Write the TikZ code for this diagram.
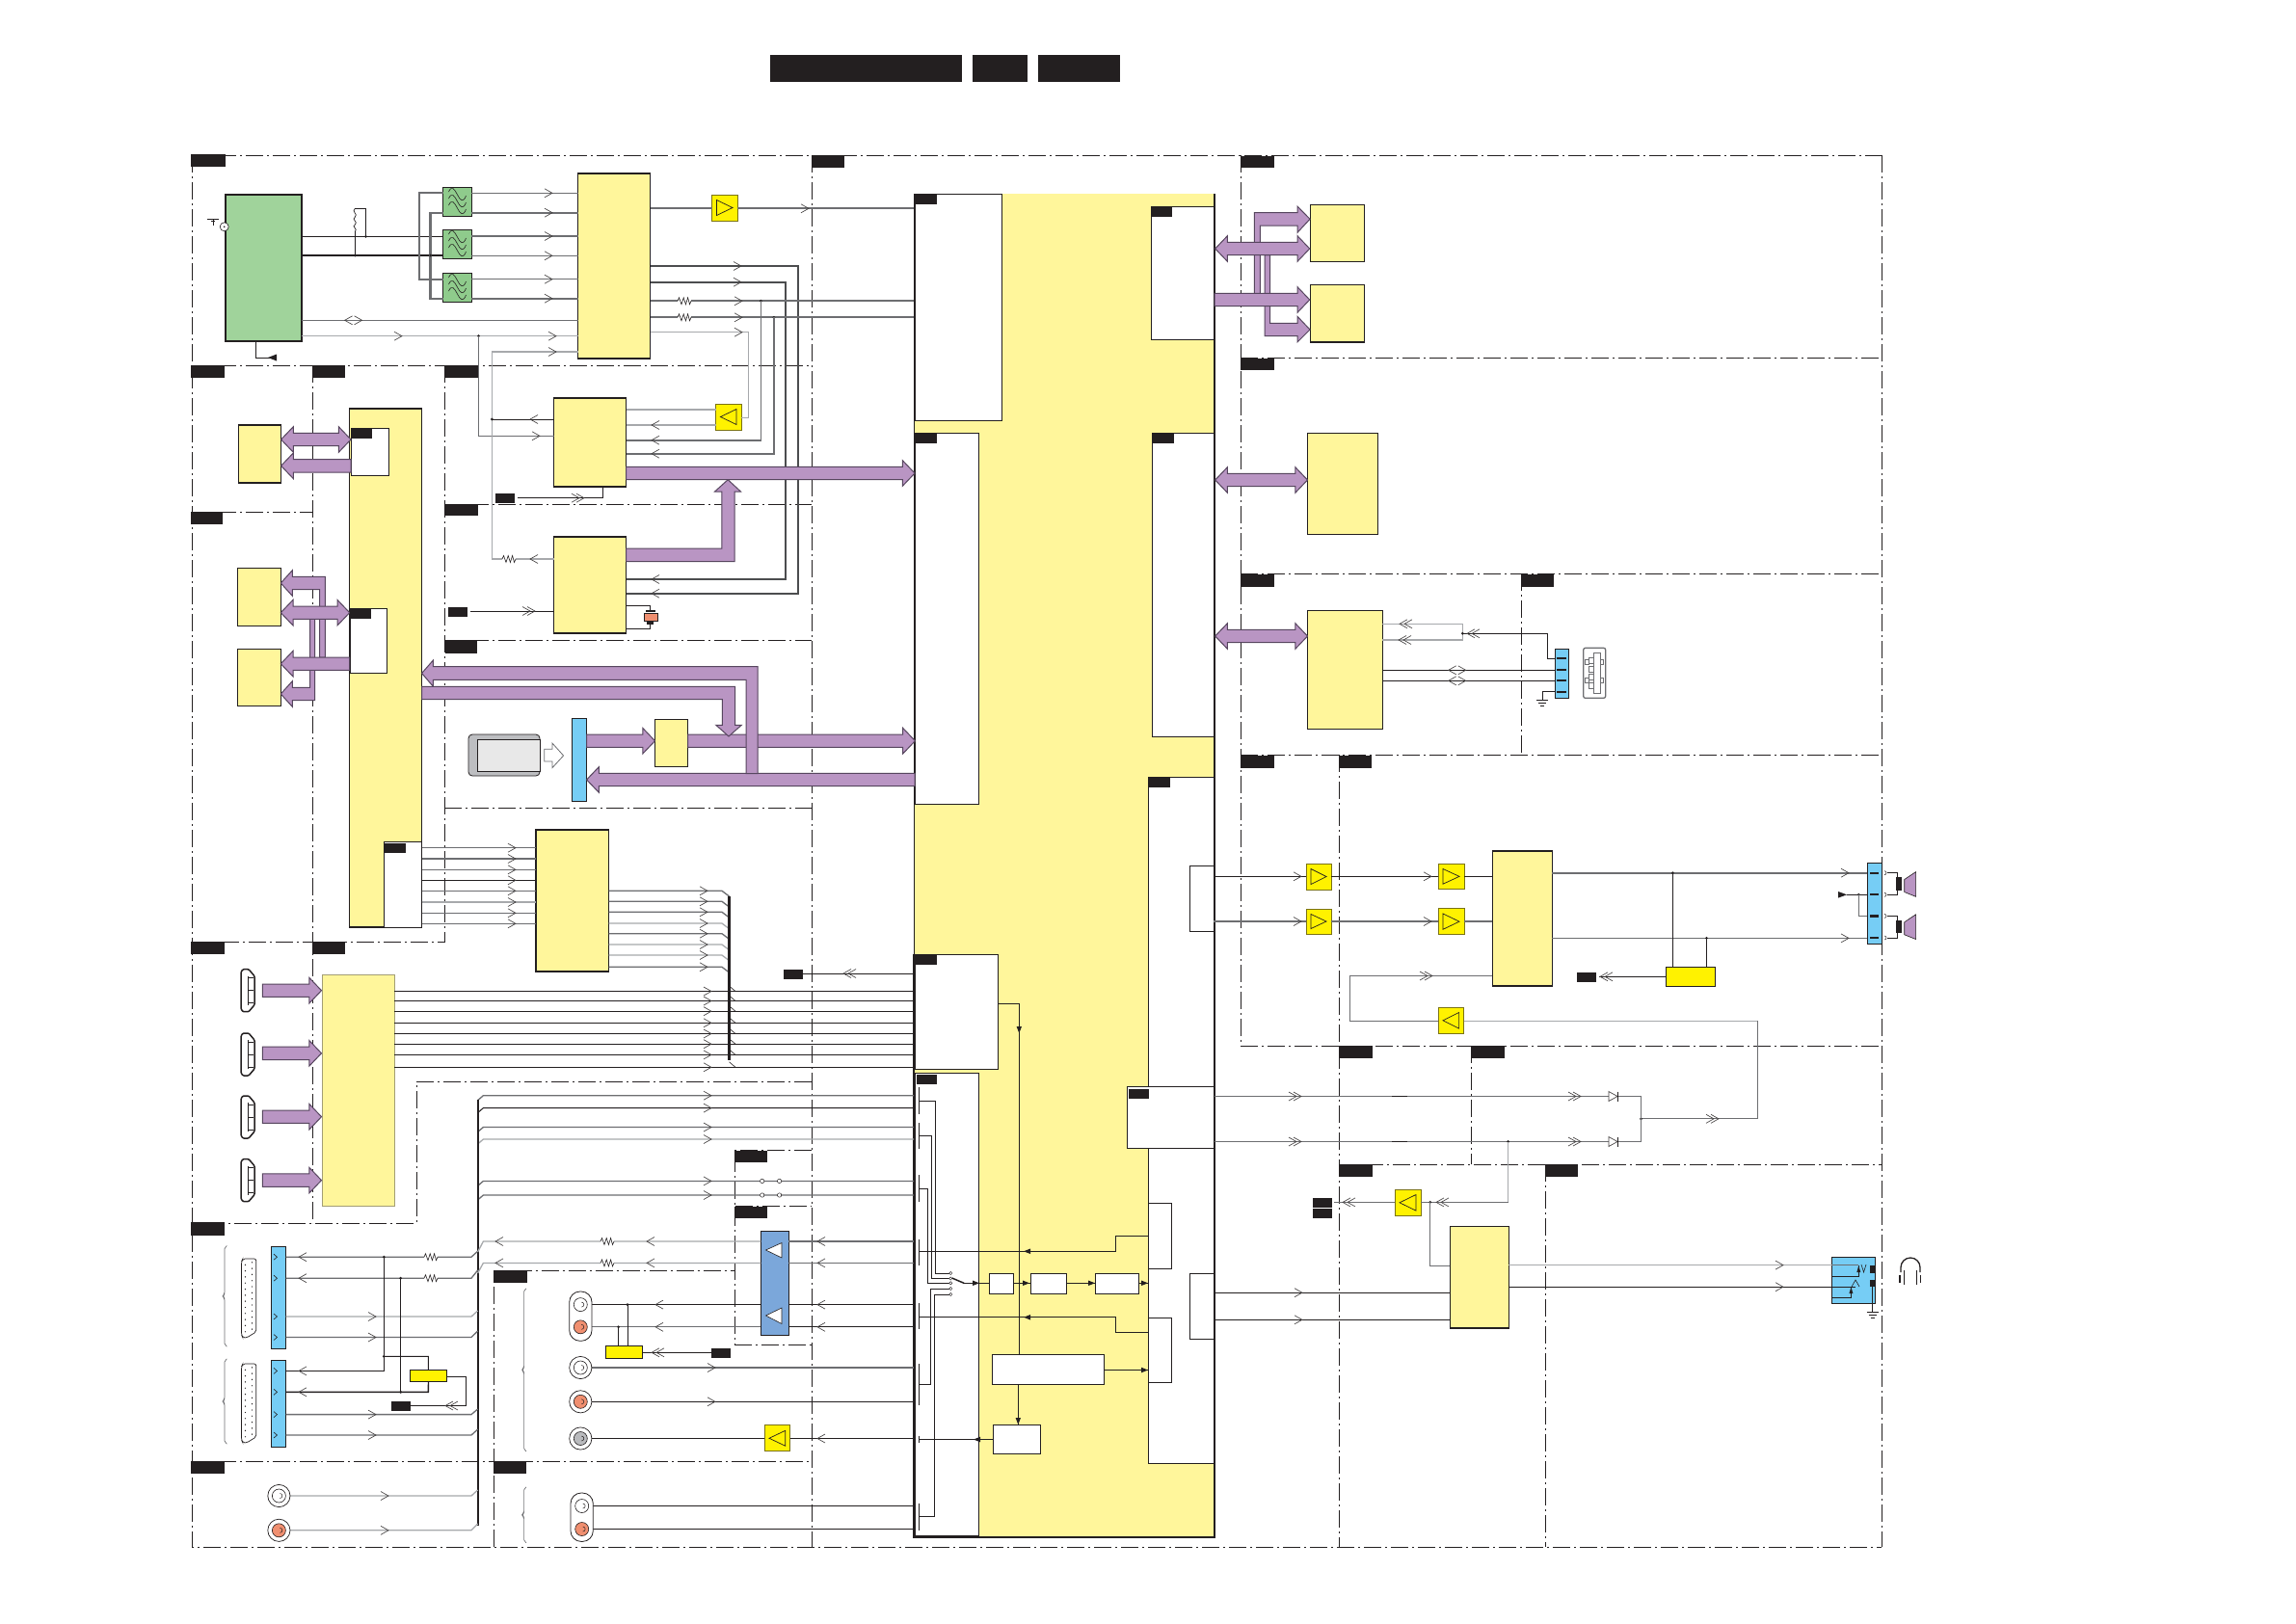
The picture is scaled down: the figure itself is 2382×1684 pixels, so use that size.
\documentclass[tikz,border=0pt]{standalone}
\definecolor{ink}{HTML}{231F20}
\definecolor{yl}{HTML}{FFF69B}
\definecolor{ybr}{HTML}{FFF200}
\definecolor{grn}{HTML}{A0D39B}
\definecolor{grn2}{HTML}{8FCB8C}
\definecolor{busc}{HTML}{B995C3}
\definecolor{busd}{HTML}{57465F}
\definecolor{cyn}{HTML}{76CDF5}
\definecolor{blu}{HTML}{7BA7DA}
\definecolor{sal}{HTML}{F08F70}
\definecolor{gm}{HTML}{6D6E71}
\definecolor{gl}{HTML}{A7A9AC}
\tikzset{
  base/.style={rectangle,inner sep=0pt,outer sep=0pt,anchor=center},
  yb/.style={base,fill=yl,draw=ink,line width=1.3pt},
  ybt/.style={base,fill=yl,draw=ink!35!yl!70!gray,line width=1pt},
  wb/.style={base,fill=white,draw=ink,line width=.9pt},
  gb/.style={base,fill=grn,draw=ink,line width=1.8pt},
  fb/.style={base,fill=grn2,draw=ink,line width=1pt},
  ampsq/.style={base,fill=ybr,draw=ink!60!ybr,line width=1pt},
  ysq/.style={base,fill=ybr,draw=ink,line width=1pt},
  cb/.style={base,fill=cyn,draw=ink,line width=.8pt},
  bb/.style={base,fill=blu,draw=ink,line width=1pt},
  fr/.style={draw=ink,line width=.8pt,dash pattern=on 18pt off 4pt on 2pt off 4pt},
  wk/.style={draw=ink,line width=1pt},
  wk2/.style={draw=ink,line width=1.4pt},
  wg/.style={draw=gm,line width=1.3pt},
  wt/.style={draw=gm,line width=2.2pt},
  wl/.style={draw=gl,line width=1.3pt},
  chev/.style={draw=ink!85,line width=.65pt},
  bus/.style={fill=busc,draw=busd,line width=1pt,line join=miter},
}
\newcommand\bx[6]{\node[#1,minimum width={(#5-#3)*1pt},minimum height={(#6-#4)*1pt}] (#2) at ({(#3+#5)/2},{(#4+#6)/2}) {};}
\newcommand\ampR[5]{\bx{ampsq}{#1}{#2}{#3}{#4}{#5}\draw[ink,line width=.7pt] (#2+5,#3+5.5)--(#4-5,{(#3+#5)/2})--(#2+5,#5-5.5)--cycle;}
\newcommand\ampL[5]{\bx{ampsq}{#1}{#2}{#3}{#4}{#5}\draw[ink,line width=.7pt] (#4-5,#3+5.5)--(#2+5,{(#3+#5)/2})--(#4-5,#5-5.5)--cycle;}
\newcommand\lb[4]{\fill[ink] (#1,#3) rectangle (#2,#4);}
\newcommand\hl[4]{\draw[#1] (#2.east |- 0,#4) -- (#3.west |- 0,#4);}
\newcommand\chR[2]{\draw[chev] (#1-8,#2-4.5)--(#1,#2)--(#1-8,#2+4.5);}
\newcommand\chL[2]{\draw[chev] (#1+8,#2-4.5)--(#1,#2)--(#1+8,#2+4.5);}
\newcommand\dchR[2]{\chR{#1}{#2}\chR{#1+5}{#2}}
\newcommand\dchL[2]{\chL{#1}{#2}\chL{#1+5}{#2}}
\newcommand\dia[2]{\chL{#1-9}{#2}\chR{#1+9}{#2}}
\newcommand\jn[2]{\fill[ink] (#1,#2) circle (1.5pt);}
\newcommand\resi[2]{\fill[white] (#1-7,#2-2) rectangle (#1+7,#2+2);\draw[ink,line width=.6pt] (#1-7,#2)--(#1-5.5,#2-3.5)--(#1-3,#2+3.5)--(#1-.8,#2-3.5)--(#1+1.4,#2+3.5)--(#1+3.6,#2-3.5)--(#1+5.5,#2+3.5)--(#1+7,#2);}
\newcommand\buR[3]{\draw[bus] (#1,#3-6.7)--(#2-12.7,#3-6.7)--(#2-12.7,#3-13.3)--(#2,#3)--(#2-12.7,#3+13.3)--(#2-12.7,#3+6.7)--(#1,#3+6.7)--cycle;}
\newcommand\buL[3]{\draw[bus] (#2,#3-6.7)--(#1+12.7,#3-6.7)--(#1+12.7,#3-13.3)--(#1,#3)--(#1+12.7,#3+13.3)--(#1+12.7,#3+6.7)--(#2,#3+6.7)--cycle;}
\newcommand\buB[3]{\draw[bus] (#1,#3)--(#1+12.7,#3-13.3)--(#1+12.7,#3-6.7)--(#2-12.7,#3-6.7)--(#2-12.7,#3-13.3)--(#2,#3)--(#2-12.7,#3+13.3)--(#2-12.7,#3+6.7)--(#1+12.7,#3+6.7)--(#1+12.7,#3+13.3)--cycle;}
\newcommand\rcb[3]{\draw[ink,line width=.6pt,fill=#3] (#1,#2) circle (7pt);\draw[ink,line width=.5pt] (#1+1,#2-2.5) arc (90:-90:2.5pt);}
\newcommand\rca[3]{\draw[ink,line width=.7pt,fill=white] (#1,#2) circle (11.6pt);\rcb{#1}{#2}{#3}}
\newcommand\rcaoval[4]{\draw[ink,line width=.8pt,fill=white,rounded corners=11pt] (#1,#2) rectangle (#3,#4);}
\newcommand\gnd[2]{\draw[ink,line width=.7pt] (#1-6,#2)--(#1+6,#2) (#1-4,#2+3)--(#1+4,#2+3) (#1-2,#2+6)--(#1+2,#2+6);}
\newcommand\hdmi[1]{\draw[ink,line width=1.5pt,fill=white,rounded corners=1pt] (252,#1)--(258,#1)--(264,#1+7)--(264,#1+37)--(258,#1+44)--(252,#1+44)--(250,#1+41)--(250,#1+3)--cycle;\draw[ink,line width=.7pt] (257,#1+7)--(257,#1+37) (257,#1+9)--(262.5,#1+9) (257,#1+22)--(262.5,#1+22) (257,#1+35)--(262.5,#1+35);}
\newcommand\dsub[2]{\draw[ink,line width=.7pt,fill=white,rounded corners=2pt] (252,#1)--(265.7,#1)--(265.7,#2-6)--(259,#2-2)--(256,#2)--(252,#2)--(250.5,#2-3)--(250.5,#1+3)--cycle;\foreach \k in {1,...,12}{\fill[ink] (254.5,{#1+\k*(#2-#1)/13}) circle (.7pt);\fill[ink] (261.5,{#1+(\k-.4)*(#2-#1)/13}) circle (.7pt);}}
\newcommand\brc[3]{\draw[gm,line width=.7pt,rounded corners=2pt] (#1+4.5,#2)--(#1+2,#2+1)--(#1+2,{(#2+#3)/2-2})--(#1,{(#2+#3)/2})--(#1+2,{(#2+#3)/2+2})--(#1+2,#3-1)--(#1+4.5,#3);}
\newcommand\wav[2]{\draw[ink,line width=.6pt] (#1-9,#2-3) .. controls (#1-6,#2-10) and (#1-3,#2-6) .. (#1,#2) .. controls (#1+3,#2+6) and (#1+6,#2+9) .. (#1+9,#2+1);}
\newcommand\filt[2]{\wav{#1}{#2-7}\wav{#1}{#2}\wav{#1}{#2+7}}
\begin{document}
\begin{tikzpicture}[x=1pt,y=-1pt,line cap=butt]
\useasboundingbox (0,0) rectangle (2382,1684);
\fill[white] (0,0) rectangle (2382,1684);
% frames
\draw[fr] (199,161)--(1952,161);
\draw[fr] (199,161)--(199,1605)--(1952,1605);
\draw[fr] (842.5,161)--(842.5,1605);
\draw[fr] (1952,161)--(1952,1605);
\draw[fr] (199,379)--(842,379);
\draw[fr] (324.6,379)--(324.6,1269);
\draw[fr] (461.5,379)--(461.5,977)--(199,977);
\draw[fr] (199,531)--(324,531);
\draw[fr] (461,523)--(842,523);
\draw[fr] (461,664)--(842,664);
\draw[fr] (461,838)--(842,838);
\draw[fr] (842,1122)--(432,1122)--(432,1269)--(199,1269);
\draw[fr] (199,1516)--(842,1516);
\draw[fr] (512.6,1605)--(512.6,1318)--(762.6,1318);
\draw[fr] (842,1193.5)--(762.6,1193.5)--(762.6,1395)--(842,1395);
\draw[fr] (762.6,1251.5)--(842,1251.5);
\draw[fr] (1287,161)--(1287,1085)--(1952,1085);
\draw[fr] (1287,371)--(1952,371);
\draw[fr] (1287,595)--(1952,595);
\draw[fr] (1578,595)--(1578,783);
\draw[fr] (1287,783)--(1952,783);
\draw[fr] (1389,783)--(1389,1605);
\draw[fr] (1526.4,1085)--(1526.4,1208);
\draw[fr] (1389,1208)--(1952,1208);
\draw[fr] (1603,1208)--(1603,1605);
% main block
\node[base,fill=yl,minimum width=312pt,minimum height=1394pt] (main) at (1104,898) {};
\bx{wb}{ma}{949}{201}{1039}{436}
\bx{wb}{mb}{949}{449}{1015}{834}
\bx{wb}{mc}{1194}{214}{1260}{352}
\bx{wb}{md}{1195}{449}{1260}{764}
\bx{wb}{me}{1191.6}{806}{1260}{1518}
\bx{wb}{mf}{949}{990}{1035.4}{1109}
\bx{wb}{mg}{949}{1113.5}{1015}{1593.5}
\bx{wb}{mh}{1234}{898}{1259}{966}
\bx{wb}{mi}{1169}{1127}{1259}{1191}
\bx{wb}{mj}{1234.5}{1321}{1259}{1389}
\bx{wb}{mk}{1191.6}{1248}{1215.7}{1316}
\bx{wb}{ml}{1191.6}{1367}{1215.7}{1434.5}
\bx{wb}{pa}{1026}{1321.5}{1051.4}{1342.4}
\bx{wb}{pb}{1069}{1321.5}{1106}{1342.4}
\bx{wb}{pc}{1136}{1321.5}{1181}{1342.4}
\bx{wb}{pd}{1029}{1405}{1145.6}{1436.5}
\bx{wb}{pe}{1030.4}{1478.5}{1079.5}{1508.5}
\draw[ink,line width=1.8pt] (948,990)--(948,1595)--(1260,1595)--(1260,201);
\draw[ink,line width=.9pt] (948,990)--(948,201)--(1039,201);
% upper left blocks
\bx{gb}{tun}{233.6}{201.7}{313}{354}
\bx{fb}{fa}{459.5}{194}{489.4}{224.3}
\bx{fb}{fbb}{459.5}{238}{489.4}{268}
\bx{fb}{fc}{459.5}{283}{489.4}{313}
\filt{474.5}{209}\filt{474.5}{253}\filt{474.5}{298}
\bx{yb}{ifb}{599.6}{180}{674.6}{372}
\ampR{ampa}{738.5}{202}{765}{229}
\ampL{ampb}{742.5}{419}{769}{446}
\bx{yb}{deca}{574.6}{413}{649.6}{505}
\bx{yb}{decb}{574.6}{557}{649.6}{657}
\bx{yb}{soc}{362.6}{424}{437.6}{962}
\bx{wb}{sa}{364}{444}{403.7}{493.3}
\bx{wb}{sb}{363.3}{631.3}{401.7}{698.3}
\bx{wb}{sc}{398.4}{873}{437.6}{962}
\bx{yb}{ya}{247.4}{441}{291.6}{501}
\bx{yb}{yc}{246.7}{589.3}{291.3}{649.3}
\bx{yb}{yd}{246.7}{673.3}{291.3}{732.3}
\bx{yb}{cam}{679.5}{746.7}{713.7}{795.7}
\bx{cb}{slot}{593}{745}{608.6}{831}
\bx{yb}{tb}{556}{861}{631.5}{1008}
\bx{ybt}{hd}{334}{1011}{409}{1251.6}
% right blocks
\bx{yb}{ra}{1359.3}{212.3}{1415.7}{271.3}
\bx{yb}{rb}{1359.3}{295.3}{1415.7}{355}
\bx{yb}{rc}{1356.5}{449.6}{1429.5}{554.4}
\bx{yb}{rd}{1356.7}{633.7}{1434.3}{756.3}
\bx{cb}{usb}{1613.3}{673.3}{1627.3}{724.3}
\ampR{amc}{1355}{896}{1381}{923}
\ampR{amd}{1355}{943}{1381}{969}
\ampR{ame}{1492}{896}{1519}{922.7}
\ampR{amf}{1492}{942.5}{1519}{969.8}
\ampL{amg}{1492}{1045}{1518.6}{1072.6}
\ampL{amh}{1447}{1234}{1474}{1261.6}
\bx{yb}{aud}{1548.3}{883}{1610.4}{1023}
\bx{yb}{hp}{1504.4}{1272.7}{1565.3}{1378}
\bx{ysq}{mut}{1728.6}{1003.4}{1779.6}{1023.6}
\bx{cb}{spk}{1937.4}{895.5}{1952.4}{979.7}
\bx{cb}{jack}{1900.6}{1304.3}{1945.7}{1352.3}
% lower left blocks
\bx{cb}{ca}{281.3}{1293.4}{296.5}{1399.6}
\bx{cb}{cc}{281.3}{1411.6}{296.5}{1501.6}
\bx{ysq}{yt}{425.5}{1421.5}{463.5}{1433.5}
\bx{ysq}{yu}{628.7}{1396.7}{666.6}{1409.5}
\bx{bb}{blk}{789.4}{1277}{818.4}{1385.5}
\ampL{ami}{793}{1478.8}{819.7}{1505.7}
\fill[white,draw=ink,line width=.6pt] (794.5,1297)--(811,1289.5)--(811,1305)--cycle;
\fill[white,draw=ink,line width=.6pt] (794.5,1365)--(811,1357)--(811,1373.5)--cycle;
% tuner area wires
\draw[wk2] (tun.east |- 0,245.3) -- (fbb.west |- 0,245.3);
\draw[wk2] (tun.east |- 0,265) -- (fbb.west |- 0,265);
\draw[wt] (fa.west |- 0,200.3) -- (435,200.3) -- (435,289.7) -- (fc.west |- 0,289.7);
\draw[wt] (fa.west |- 0,220.7) -- (446.5,220.7) -- (446.5,309.7) -- (fc.west |- 0,309.7);
\jn{379.5}{245.3}\jn{368.4}{265}\jn{446.5}{265}
\draw[ink,line width=.7pt] (368.4,265)--(368.4,240);
\draw[ink,line width=.7pt] (368.4,216) .. controls (364,220) and (372,222) .. (368.4,225) .. controls (364,228) and (372,230) .. (368.4,233) .. controls (364,235) and (372,238) .. (368.4,240);
\draw[ink,line width=.8pt] (368.4,216)--(379.5,216)--(379.5,245.3);
\foreach \y/\s in {200.3/wg,220.7/wt}{\hl{\s}{fa}{ifb}{\y}\chR{573}{\y}}
\foreach \y/\s in {245/wt,265.3/wg}{\hl{\s}{fbb}{ifb}{\y}\chR{573}{\y}}
\foreach \y/\s in {289.7/wg,309.7/wt}{\hl{\s}{fc}{ifb}{\y}\chR{573}{\y}}
\hl{wg}{tun}{ifb}{332.3}\dia{366.6}{332.3}
\hl{wl}{tun}{ifb}{348.7}\chR{417}{348.7}\chR{577}{348.7}
\jn{496.5}{348.7}
\draw[wg,line width=.9pt] (496.5,348.7)--(496.5,452.3)--(deca.west |- 0,452.3);\chR{560}{452.3}
\draw[wl] (ifb.west |- 0,365)--(510.4,365)--(510.4,580)--(decb.west |- 0,580);\chR{577}{365}
\resi{528}{580}\chL{550}{580}
\draw[wk] (deca.west |- 0,435)--(510.4,435);\jn{510.4}{435}\chL{550}{435}
\draw[wk] (tun.south -| 265.3,0)--(265.3,371)--(280,371);\fill[ink] (278,371)--(287,367.5)--(287,374.5)--cycle;
\fill[white,draw=ink,line width=.6pt] (232.7,235.3) circle (4.5pt);\fill[ink] (232.7,235.3) circle (.9pt);
\draw[ink,line width=.9pt] (215,227)--(227,227) (219,229)--(223,229) (221,227)--(221,234);
% IF block right
\draw[wt] (ifb.east |- 0,216.3)--(ampa.west |- 0,216.3) (ampa.east |- 0,216.3)--(main.west |- 0,216.3);\chR{839}{216.3}
\draw[wt,draw=gm!70!black] (ifb.east |- 0,276)--(828,276)--(828,615.7)--(decb.east |- 0,615.7);\chR{769}{276}\chL{676}{615.7}
\draw[wt,draw=gm!70!black] (ifb.east |- 0,292.7)--(815,292.7)--(815,601)--(decb.east |- 0,601);\chR{769}{292.7}\chL{676}{601}
\hl{wt}{ifb}{main}{312.3}\resi{710}{312.3}\chR{770}{312.3}\jn{789.4}{312.3}
\hl{wt}{ifb}{main}{329.3}\resi{710}{329.3}\chR{770}{329.3}\jn{802.8}{329.3}
\draw[wg,line width=1.6pt] (789.4,312.3)--(789.4,456.7)--(deca.east |- 0,456.7);\chL{676}{456.7}
\draw[wg,line width=1.6pt] (802.8,329.3)--(802.8,470.7)--(deca.east |- 0,470.7);\chL{676}{470.7}
\draw[wl] (ifb.east |- 0,344.7)--(776.4,344.7)--(776.4,433.3)--(ampb.east |- 0,433.3);\chR{770}{344.7}
\draw[wl] (deca.east |- 0,425)--(ampb.west |- 0,425);
\draw[wl] (deca.east |- 0,441)--(ampb.west |- 0,441);\chL{676}{441}
% labelled local feeds
\coordinate (fa1) at (537,516.7);\coordinate (fa2) at (488,634);
\draw[wk] (fa1)--(625.5,516.7)--(625.5,505);\dchR{601}{516.7}
\draw[wk] (fa2)--(decb.west |- fa2);\dchR{550}{634}
\draw[wk] (decb.east |- 0,628.3)--(674.6,628.3)--(674.6,633);\draw[wk] (decb.east |- 0,652.3)--(674.6,652.3)--(674.6,647);
\fill[ink] (670,632.5) rectangle (680,634.5);\fill[sal,draw=ink,line width=.4pt] (668,636) rectangle (682.5,644);\fill[ink] (671,645) rectangle (678,648);
% hdmi / SoC wires
\foreach \y/\s in {879.7/wg,891/wg,902.3/wg,913.3/wk,924.3/wg,936/wl,947.3/wg,958.3/wg}{\hl{\s}{sc}{tb}{\y}\chR{535}{\y}}
\foreach \y/\s in {924.3/wg,935.3/wg,946.3/wg,958/wl,968.7/wg,980/wl,991/wl,1003.3/wg}{\draw[\s] (tb.east |- 0,\y)--(749,\y)--(756.5,\y+5.7);\chR{734}{\y}}
\foreach \y/\s in {1028.5/wk,1038.5/wk,1049.2/wk2,1061.3/wk2,1072.5/wk,1083.2/wk2,1094.4/wk,1107.3/wk2}{\hl{\s}{hd}{main}{\y}\chR{738}{\y}}
\foreach \y in {1028.5,1038.5,1049.2,1061.3,1072.5,1083.2,1094.4,1107.3}{\draw[wk,line width=.6pt] (756.5,\y-5.5)--(763,\y);}
\draw[ink,line width=2.5pt] (756.5,930)--(756.5,1100);
\coordinate (lbm) at (833,1010);
\draw[wk] (lbm)--(main.west |- lbm);\dchL{875}{1010}
\foreach \y/\s in {1136.7/wg,1149.6/wk,1169.5/wg,1182/wl,1225.4/wg,1240/wg}{\draw[\s] (495.6,\y+5)--(501.4,\y)--(main.west |- 0,\y);\chR{738}{\y}}
\foreach \x in {790.7,808.6}{\foreach \y in {1225.4,1240}{\draw[ink,line width=.5pt,fill=white] (\x,\y) circle (2.2pt);}}
% left connector wires
\draw[ink,line width=2.2pt] (495.6,1141)--(495.6,1583);
\draw[wg] (ca.east |- 0,1304.2)--(489,1304.2)--(495.6,1298.2);\chL{310}{1304.2}\resi{447}{1304.2}
\draw[wg] (ca.east |- 0,1326.2)--(489,1326.2)--(495.6,1318);\chL{310}{1326.2}\resi{447}{1326.2}
\draw[wl] (ca.east |- 0,1366)--(489,1366)--(495.6,1360);\chR{390}{1366}
\draw[wg] (ca.east |- 0,1387.5)--(489,1387.5)--(495.6,1381);\chR{390}{1387.5}
\draw[wk2] (cc.east |- 0,1422.4)--(398.3,1422.4)--(398.3,1304.2);\chL{310}{1422.4}\jn{398.3}{1304.2}
\draw[wk2] (cc.east |- 0,1444.3)--(444.3,1444.3)--(yt.south |- 444.3,1433.5);\chL{310}{1444.3}
\draw[wk] (415.7,1326.2)--(415.7,1444.3);\jn{415.7}{1326.2}\jn{415.7}{1444.3}
\draw[wk] (398.3,1407.4)--(444.3,1407.4)--(yt.north |- 444.3,1421.5);\jn{398.3}{1407.4}
\coordinate (lbn) at (426,1458.5);
\draw[wk] (yt.east |- 0,1428.6)--(483.6,1428.6)--(483.6,1458.5)--(lbn);\dchL{462}{1458.5}
\draw[wg] (cc.east |- 0,1467.6)--(489,1467.6)--(495.6,1462);\chR{390}{1467.6}
\draw[wg] (cc.east |- 0,1489)--(489,1489)--(495.6,1483);\chR{390}{1489}
\draw[wl] (301,1552)--(489,1552)--(495.6,1546);\chR{403}{1552}
\draw[wl] (301,1587.8)--(489,1587.8)--(495.6,1581);\chR{403}{1587.8}
% centre rows
\draw[wl] (495.6,1299)--(501.4,1288)--(blk.west |- 0,1288);\chL{514}{1288}\resi{630}{1288}\chL{671}{1288}
\draw[wl] (495.6,1321)--(501.4,1310.4)--(blk.west |- 0,1310.4);\chL{514}{1310.4}\resi{630}{1310.4}\chL{671}{1310.4}
\foreach \y in {1288,1310.4}{\hl{wg}{blk}{main}{\y}\chL{848}{\y}}
\draw[wk] (602.3,1353.6)--(blk.west |- 0,1353.6);\chL{680}{1353.6}
\draw[wg] (602.3,1376.8)--(blk.west |- 0,1376.8);\chL{680}{1376.8}
\foreach \y in {1353.6,1376.8}{\hl{wk}{blk}{main}{\y}\chL{848}{\y}}
\draw[wk] (651,1353.6)--(651,1396.7);\jn{651}{1353.6}
\draw[wk] (641.6,1376.8)--(641.6,1396.7);\jn{641.6}{1376.8}
\coordinate (lbp) at (738,1403.3);
\draw[wk] (yu.east |- lbp)--(lbp);\dchL{676}{1403.3}
\draw[wg] (602.3,1419)--(main.west |- 0,1419);\chR{742}{1419}
\draw[wk] (602.3,1454.3)--(main.west |- 0,1454.3);\chR{742}{1454.3}
\draw[wk] (602.3,1492.5)--(ami.west |- 0,1492.5);
\hl{wk}{ami}{main}{1492.5}\chL{848}{1492.5}
\draw[wk] (603.7,1562.5)--(main.west |- 0,1562.5);
\draw[wk] (603.7,1586.5)--(main.west |- 0,1586.5);
% connectors
\foreach \y in {1005.7,1072,1137,1202.6}{\hdmi{\y}}
\foreach \y in {1027.7,1092.8,1158.7,1224.6}{\buR{272.4}{333.5}{\y}}
\dsub{1306}{1388}\dsub{1415}{1497}
\brc{231}{1292.6}{1397}\brc{231}{1410}{1498}
\brc{541.6}{1337}{1505.7}\brc{541.6}{1543}{1600.6}
\foreach \y in {1304.2,1326.2,1366,1387.5,1422.4,1444.3,1467.6,1489}{\draw[ink,line width=.6pt] (284,\y-3)--(287.5,\y)--(284,\y+3);}
\rcaoval{590.7}{1340}{614}{1391.3}
\rcb{602.3}{1353.6}{white}\rcb{602.3}{1376.8}{sal}
\rca{602.3}{1419}{white}\rca{602.3}{1454.3}{sal}\rca{602.3}{1492.5}{gl!80!white}
\rcaoval{592}{1549}{615.3}{1599.4}
\rcb{603.7}{1562.5}{white}\rcb{603.7}{1586.5}{sal}
\rca{289.4}{1552}{white}\rca{289.4}{1587.8}{sal}
% purple buses
\buR{649.6}{949}{491}
\draw[bus] (649.6,569)--(748.8,569)--(748.8,510)--(741.6,510)--(755.2,497.7)--(768.4,510)--(762,510)--(762,582.7)--(649.6,582.7)--cycle;
\buB{291.6}{364}{456}
\buL{291.6}{364}{483.3}
\draw[bus] (291.3,605)--(303.3,591.7)--(303.3,598.3)--(337.3,598.3)--(337.3,682)--(331.7,682)--(331.7,611.7)--(303.3,611.7)--(303.3,618.3)--cycle;
\draw[bus] (291.3,720)--(303.3,706.7)--(303.3,713.3)--(321.7,713.3)--(321.7,642.3)--(326.7,642.3)--(326.7,726.7)--(303.3,726.7)--(303.3,733.3)--cycle;
\buB{291.3}{362.7}{635.7}
\buL{291.3}{362.7}{688.7}
\buL{608.6}{949}{809}
\buR{608.6}{679.5}{768.7}
\buR{713.7}{949.4}{768.7}
\draw[bus] (437.6,698.5)--(449.4,685)--(449.4,691.7)--(786,691.7)--(786,802.7)--(774,802.7)--(774,705.3)--(449.4,705.3)--(449.4,712.3)--cycle;
\draw[bus] (437.6,712.3)--(762.6,712.3)--(762.6,752.3)--(769.3,752.3)--(756,764)--(742.8,752.3)--(749.4,752.3)--(749.4,725.7)--(437.6,725.7)--cycle;
\draw[bus] (1301.3,304.7)--(1301.3,220.7)--(1346,220.7)--(1346,214)--(1359,227.3)--(1346,241.3)--(1346,234)--(1307.3,234)--(1307.3,304.7)--cycle;
\draw[bus] (1312,264.7)--(1317.7,264.7)--(1317.7,335.3)--(1346,335.3)--(1346,328.3)--(1359,342)--(1346,355)--(1346,348.7)--(1312,348.7)--cycle;
\buB{1260.7}{1358.7}{258}
\buR{1260}{1358.7}{311}
\buB{1260.7}{1356.5}{498}
\buB{1260.7}{1356.5}{660}
% card
\fill[gl!75!white,draw=ink,line width=.8pt,rounded corners=4pt] (486,762) rectangle (560,805);
\fill[gray!18,draw=ink,line width=.8pt] (495,767) rectangle (560,800.7);
\draw[gm,line width=.8pt,fill=white] (564.7,777.3)--(572.9,777.3)--(572.9,771)--(584.6,784)--(572.9,796.7)--(572.9,790)--(564.7,790)--cycle;
% usb
\draw[wl] (rd.east |- 0,647.3)--(1517.3,647.3)--(1517.3,664)--(rd.east |- 0,664);\dchL{1452}{647.3}\dchL{1451}{664}
\draw[wk] (1517.3,657.3)--(1605.3,657.3)--(1605.3,683.3)--(usb.west |- 0,683.3);\jn{1517.3}{657.3}\dchL{1522}{657.3}
\hl{wk}{rd}{usb}{695.3}\dia{1511.7}{695.3}
\hl{wk}{rd}{usb}{706.3}\dia{1511.7}{706.3}
\draw[wk] (usb.west |- 0,717.7)--(1600.3,717.7)--(1600.3,726.7);\gnd{1600.3}{726.7}
\foreach \y in {683.3,695.3,706,717.7}{\draw[ink,line width=2.2pt] (1615,\y)--(1625,\y);}
\draw[gm,line width=1.3pt,fill=white,rounded corners=2pt] (1642.7,672.3) rectangle (1665.7,724.3);
\draw[gm,line width=.7pt] (1653,677.7) rectangle (1660,719.3);
\foreach \y in {682,691,699,708}{\draw[gm,line width=.6pt] (1648,\y) rectangle (1653,\y+6);}
\foreach \y in {684,703}{\draw[gm,line width=.6pt] (1644.5,\y) rectangle (1648,\y+5);\draw[gm,line width=.6pt] (1660,\y) rectangle (1663.5,\y+5);}
% audio
\foreach \y/\s in {909.3/wk2,956/wt}{\draw[\s] (mh.east |- 0,\y)--(amc.west |- 0,\y);\draw[\s] (amc.east |- 0,\y)--(ame.west |- 0,\y);\draw[\s] (ame.east |- 0,\y)--(aud.west |- 0,\y);\chR{1350}{\y}\chR{1485}{\y}}
\hl{wt}{aud}{spk}{905.7}\chR{1918}{905.7}
\hl{wt,line width=1.7pt}{aud}{spk}{973.4}\chR{1918}{973.4}
\draw[wk2,line width=1.2pt] (1735.3,905.7)--(1735.3,1003.4);\jn{1735.3}{905.7}
\draw[wk] (1770.5,973.4)--(1770.5,1003.4);\jn{1770.5}{973.4}
\coordinate (lbq) at (1659,1013.3);
\draw[wk] (mut.west |- lbq)--(lbq);\dchL{1660}{1013.3}
\draw[wg] (aud.west |- 0,1012.5)--(1400.6,1012.5)--(1400.6,1059.3)--(amg.west |- 0,1059.3);\dchR{1481}{1012.5}
\draw[wl] (amg.east |- 0,1059.3)--(1823.5,1059.3);
\draw[wg] (1823.5,1059.3)--(1823.5,1160.8)--(1702.5,1160.8);\dchR{1778}{1160.8}\jn{1702.5}{1160.8}
\draw[wg] (me.east |- 0,1137.5)--(1702.5,1137.5)--(1702.5,1184.5)--(me.east |- 0,1184.5);
\foreach \y in {1137.5,1184.5}{\dchR{1345}{\y}\dchR{1635}{\y}\draw[ink,line width=1.8pt] (1444,\y)--(1460,\y);
  \draw[chev,fill=white] (1669,\y-5)--(1678,\y)--(1669,\y+5)--cycle;\draw[ink,line width=.8pt] (1678.5,\y-5)--(1678.5,\y+5);}
\jn{1564.5}{1184.5}
\draw[wl] (1564.5,1184.5)--(1564.5,1247.4)--(amh.east |- 0,1247.4);
\draw[wg,line width=.9pt] (1474,1247.4)--(1564.5,1247.4);\dchL{1490}{1247.4}\jn{1483.8}{1247.4}
\draw[wg] (1483.8,1247.4)--(1483.8,1313.8)--(hp.west |- 0,1313.8);
\coordinate (lbr) at (1384,1247.4);
\draw[wg,line width=.9pt] (amh.west |- lbr)--(lbr);\dchL{1393}{1247.4}
\draw[wk] (me.east |- 0,1341.2)--(hp.west |- 0,1341.2);\chR{1351}{1341.2}
\draw[wk] (me.east |- 0,1369.3)--(hp.west |- 0,1369.3);\chR{1351}{1369.3}
\draw[wl] (hp.east |- 0,1312.6)--(1900.6,1312.6);\chR{1850}{1312.6}
\draw[wk] (hp.east |- 0,1335.2)--(1900.6,1335.2);\chR{1850}{1335.2}
% jack
\draw[wg,line width=1.6pt] (1900.6,1312.4)--(1928.3,1312.4);
\draw[ink,line width=.8pt] (1928.3,1313)--(1928.3,1324.3)--(1900.6,1324.3);
\draw[ink,line width=.8pt] (1900.6,1335.3)--(1925,1335.3) (1900.6,1346.7)--(1920.4,1346.7)--(1920.4,1335.3);
\fill[ink] (1926.3,1320)--(1930.3,1320)--(1928.3,1313)--cycle;\fill[ink] (1918.4,1342)--(1922.4,1342)--(1920.4,1335.3)--cycle;
\draw[ink,line width=.6pt] (1931,1312)--(1933.5,1320)--(1936,1312);\draw[ink,line width=.6pt] (1921,1335)--(1925,1328)--(1929,1335);
\fill[ink] (1940,1313.3) rectangle (1945.7,1320.7);\fill[ink] (1940,1328.3) rectangle (1945.7,1335);
\draw[ink,line width=.7pt] (1942.5,1335)--(1942.5,1361);\gnd{1942.5}{1361}
% headphones
\draw[ink,line width=1.3pt] (1972,1320)--(1972,1315) arc (180:0:10pt and 10pt)--(1992,1320);
\draw[ink,line width=.8pt] (1975.3,1318)--(1975.3,1332.7) (1988,1318)--(1988,1332.7);
\draw[ink,line width=1.4pt] (1971,1323)--(1971,1330.7) (1992.3,1323)--(1992.3,1330.7);
% speakers
\foreach \y in {905.7,928.3,950.4,973}{\draw[ink,line width=2.2pt] (1940,\y)--(1949,\y);\draw[ink,line width=.5pt] (1955,\y-2) arc (90:-90:2pt);}
\draw[ink,line width=.6pt] (1957.5,905.7)--(1968.6,905.7)--(1968.6,928.3)--(1957.5,928.3);
\draw[ink,line width=.6pt] (1957.5,950.4)--(1968.6,950.4)--(1968.6,973)--(1957.5,973);
\fill[ink] (1967,910) rectangle (1972.6,924);\fill[ink] (1967,954.8) rectangle (1972.6,968.2);
\draw[ink,line width=.6pt,fill=busc] (1975.7,912.5)--(1987.6,904.6)--(1987.6,930.3)--(1975.7,925.5)--cycle;
\draw[ink,line width=.6pt,fill=busc] (1975.7,956.8)--(1987.6,948.8)--(1987.6,974.5)--(1975.7,969.8)--cycle;
\draw[wk] (1916,928.3)--(spk.west |- 0,928.3);\fill[ink] (1907,925)--(1916,928.3)--(1907,931.6)--cycle;\jn{1928.3}{928.3}
\draw[wg,line width=.8pt] (1928.3,928.3)--(1928.3,950.4)--(spk.west |- 0,950.4);
% main inner wiring
\foreach \a/\b in {1128.3/1155.7,1165/1191.7,1219/1246.7,1286/1312.7,1352/1379.3,1415/1458,1489.5/1497,1559.5/1588}{\draw[wk] (953.6,\a)--(953.6,\b);}
\draw[wk] (953.6,1142.3)--(970.3,1142.3)--(970.3,1321)--(986,1321);
\draw[wk] (953.6,1178.3)--(966.3,1178.3)--(966.3,1326.7)--(986,1326.7);
\draw[wk] (953.6,1233.3)--(962.3,1233.3)--(962.3,1331.3)--(986,1331.3);
\draw[wk] (953.6,1436.5)--(965.3,1436.5)--(965.3,1337.3)--(986,1337.3);
\draw[wk] (953.6,1573)--(969.3,1573)--(969.3,1343.3)--(986,1343.3);
\foreach \y in {1321,1326.5,1331.3,1337,1343}{\draw[ink,line width=.4pt,fill=white] (986.3,\y) circle (1.6pt);}
\draw[ink,line width=1.5pt] (987.6,1326)--(1000,1331.3);
\draw[wk] (mk.west |- 0,1282.3)--(1157,1282.3)--(1157,1298.3)--(953.6,1298.3);\fill[ink] (1062,1298.3)--(1069,1295.5)--(1069,1301)--cycle;
\draw[wk] (ml.west |- 0,1382.4)--(1157,1382.4)--(1157,1366.7)--(953.6,1366.7);\fill[ink] (1062,1366.7)--(1069,1364)--(1069,1369.5)--cycle;
\draw[wk] (mf.east |- 0,1041.5)--(1057.3,1041.5)--(pd.north -| 1057.3,0);\fill[ink] (1054.6,1065)--(1060,1065)--(1057.3,1072)--cycle;
\draw[wk] (pd.south -| 1056.3,0)--(pe.north -| 1056.3,0);\fill[ink] (1053.6,1471)--(1059,1471)--(1056.3,1478)--cycle;
\draw[wk] (1000,1331.3)--(pa.west |- 0,1331.3);\fill[ink] (1009,1328.5)--(1009,1334)--(1016,1331.3)--cycle;
\draw[wk] (pa.east |- 0,1331.3)--(pb.west |- 0,1331.3);\fill[ink] (1061,1328.5)--(1061,1334)--(1068,1331.3)--cycle;
\draw[wk] (pb.east |- 0,1331.3)--(pc.west |- 0,1331.3);\fill[ink] (1129,1328.5)--(1129,1334)--(1136,1331.3)--cycle;
\draw[wk] (pc.east |- 0,1331.3)--(mk.west |- 0,1331.3);\fill[ink] (1184,1328.5)--(1184,1334)--(1191,1331.3)--cycle;
\draw[wk] (pd.east |- 0,1421.5)--(ml.west |- 0,1421.5);\fill[ink] (1184,1418.7)--(1184,1424.3)--(1191,1421.5)--cycle;
\draw[wk] (pe.west |- 0,1493.5)--(953.6,1493.5);\fill[ink] (1017,1490.7)--(1017,1496.3)--(1010,1493.5)--cycle;
% labels
\lb{799}{998}{57}{85}\lb{1009}{1066}{57}{85}\lb{1077}{1162}{57}{85}
\lb{198}{234}{160}{173}\lb{842}{875.5}{161}{174}\lb{198}{233}{379}{392}\lb{324}{358}{379}{392}\lb{461}{496}{379}{392}
\lb{198}{231}{531}{544}\lb{461}{496}{523}{535}\lb{364}{386}{444}{455}\lb{363.3}{385}{631.3}{641.7}\lb{514}{534}{512}{522}\lb{465}{485}{630}{640}
\lb{461.6}{495}{664}{678}\lb{399}{421}{875}{885}\lb{198}{233}{977}{990}\lb{324}{358}{977}{990}\lb{813}{833}{1006}{1016}
\lb{198}{233}{1268}{1282}\lb{512}{547}{1318}{1331}\lb{198}{233}{1516}{1529}\lb{512}{546}{1516}{1529}
\lb{762}{796}{1193.5}{1206}\lb{762}{796}{1251.5}{1264}\lb{738}{758}{1399}{1409}\lb{406}{426}{1454}{1464}
\lb{948}{972}{201}{212}\lb{949}{972}{449}{460}\lb{1194}{1216}{214}{225}\lb{1195}{1218}{449}{460}\lb{1191}{1214}{806}{817}\lb{949}{972}{990}{1001}\lb{950.5}{972}{1115}{1125}\lb{1171}{1192}{1130}{1140}
\lb{1287}{1322}{162}{174}\lb{1287}{1322}{372}{384}\lb{1287}{1322}{596}{609}\lb{1578}{1612}{596}{609}\lb{1287}{1322}{784}{797}\lb{1389}{1423}{784}{797}
\lb{1389}{1424}{1085}{1098}\lb{1526}{1561}{1085}{1098}\lb{1389}{1424}{1208}{1221}\lb{1603}{1637}{1208}{1221}\lb{1362}{1382}{1243}{1253}\lb{1362}{1382}{1254}{1264}\lb{1636}{1656}{1008.5}{1019}
\end{tikzpicture}
\end{document}
